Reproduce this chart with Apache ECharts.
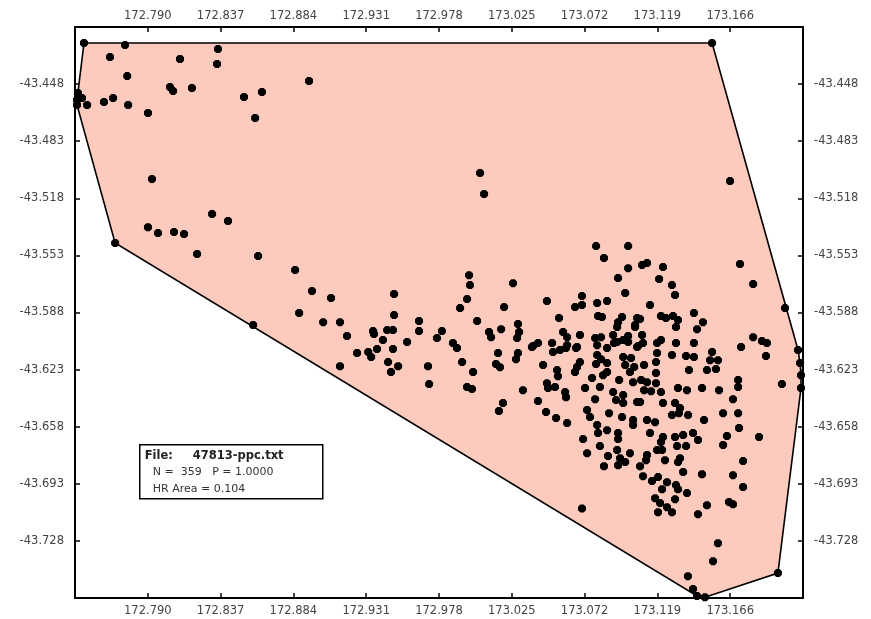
<!DOCTYPE html>
<html><head><meta charset="utf-8">
<script src="https://cdn.jsdelivr.net/npm/echarts@6/dist/echarts.min.js"></script>
<style>html,body{margin:0;padding:0;background:#fff}#c{width:871px;height:619px}</style>
</head><body><div id="c"></div>
<script>
// Axis ticks (longitude / latitude)
const xTicks = [172.790, 172.837, 172.884, 172.931, 172.978, 173.025, 173.072, 173.119, 173.166];
const yTicks = [-43.448, -43.483, -43.518, -43.553, -43.588, -43.623, -43.658, -43.693, -43.728];
const xRange = [172.743, 173.213];
const yRange = [-43.763, -43.413];

// Locations [longitude, latitude]
const westPts = [
[172.7488,-43.4228],[172.7753,-43.4241],[172.7656,-43.4314],[172.8353,-43.4265],[172.8347,-43.4357],[172.8108,-43.4326],[172.7767,-43.4431],[172.7449,-43.4534],[172.7443,-43.4578],[172.7475,-43.4565],[172.7508,-43.4608],[172.7443,-43.4608],[172.7617,-43.4590],[172.7676,-43.4565],[172.7773,-43.4608],[172.7901,-43.4657],[172.8043,-43.4498],[172.8063,-43.4522],[172.8185,-43.4504],[172.8521,-43.4559],[172.8637,-43.4528],[172.8593,-43.4688],[172.8941,-43.4461],
[172.7689,-43.5454],[172.7927,-43.5062],[172.7901,-43.5357],[172.7966,-43.5393],[172.8069,-43.5387],[172.8134,-43.5399],[172.8315,-43.5276],[172.8418,-43.5319],[172.8218,-43.5521],[172.8612,-43.5534],[172.8851,-43.5620],[172.8960,-43.5748],[172.9083,-43.5791],[172.9490,-43.5767]
];
const midPts = [
[172.8580,-43.5957],[172.8877,-43.5883],[172.9032,-43.5939],[172.9141,-43.5939],[172.9186,-43.6024],[172.9490,-43.5896],[172.9354,-43.5994],[172.9360,-43.6012],[172.9445,-43.5988],[172.9483,-43.5988],[172.9418,-43.6049],[172.9574,-43.6061],[172.9651,-43.5932],[172.9651,-43.5994],[172.9767,-43.6037],[172.9251,-43.6128],[172.9323,-43.6122],[172.9342,-43.6153],[172.9380,-43.6104],[172.9483,-43.6104],[172.9451,-43.6184],[172.9516,-43.6209],[172.9470,-43.6245],[172.9141,-43.6209],[172.9709,-43.6209],[172.9716,-43.6319],
[172.9799,-43.5994],[172.9870,-43.6067],[172.9896,-43.6098],[172.9929,-43.6184],[172.9961,-43.6337]
];
const eastPts = [
[173.1543,-43.4228],
[173.0045,-43.5025],[173.0071,-43.5154],[173.1659,-43.5074],[173.0794,-43.5473],[173.1001,-43.5473],[173.0845,-43.5546],[173.1001,-43.5608],[173.1091,-43.5589],[173.1123,-43.5577],[173.1226,-43.5601],[173.0936,-43.5669],[173.1201,-43.5675],[173.1284,-43.5712],[173.1304,-43.5773],[173.0982,-43.5761],[173.1142,-43.5834],[173.1723,-43.5583],[173.1808,-43.5706],[173.2014,-43.5853],[172.9974,-43.5651],[172.9980,-43.5712],[172.9961,-43.5798],[172.9916,-43.5853],[173.0258,-43.5700],[173.0200,-43.5847],[173.0477,-43.5810],[173.0703,-43.5779],[173.0703,-43.5834],[173.0658,-43.5847],[173.0801,-43.5822],[173.0865,-43.5810],
[173.0555,-43.5914],[173.0807,-43.5902],[173.0832,-43.5908],[173.0962,-43.5908],[173.0936,-43.5939],[173.0930,-43.5969],[173.1046,-43.5957],[173.1078,-43.5920],[173.0026,-43.5932],[173.0181,-43.5982],[173.0290,-43.5951],[173.0297,-43.6000],[173.0103,-43.6000],[173.0116,-43.6031],[173.0284,-43.6037],[173.0581,-43.6000],[173.0607,-43.6031],[173.0690,-43.6018],[173.0788,-43.6037],[173.0826,-43.6031],[173.0904,-43.6018],[173.0910,-43.6067],[173.0969,-43.6049],[173.1001,-43.6024],[173.0419,-43.6067],[173.0380,-43.6092],[173.0510,-43.6067],[173.0607,-43.6080],[173.0671,-43.6092],
[173.1213,-43.5902],[173.1245,-43.5914],[173.1291,-43.5902],[173.1323,-43.5926],[173.1310,-43.5969],[173.1059,-43.5914],[173.1046,-43.5969],[173.1426,-43.5883],[173.1484,-43.5939],[173.1446,-43.5982],[173.1091,-43.6018],[173.1213,-43.6049],[173.1310,-43.6067],[173.1426,-43.6067],[173.1097,-43.6067],[173.1065,-43.6086],[173.1808,-43.6031],[173.1865,-43.6055],[173.1897,-43.6067],[173.1730,-43.6092]
];
const corePts = [
[173.0161,-43.6128],[173.0148,-43.6196],[173.0174,-43.6215],[173.0290,-43.6128],[173.0277,-43.6166],[173.0387,-43.6086],[173.0516,-43.6122],[173.0561,-43.6110],[173.0600,-43.6098],[173.0665,-43.6098],[173.0801,-43.6080],[173.0865,-43.6098],[173.0930,-43.6061],[173.1001,-43.6061],[173.1059,-43.6092],[173.0801,-43.6141],[173.0826,-43.6166],[173.0794,-43.6196],[173.0865,-43.6190],[173.0969,-43.6153],[173.1020,-43.6159],[173.0982,-43.6202],[173.1013,-43.6245],[173.0452,-43.6202],[173.0542,-43.6233],[173.0548,-43.6270],[173.0671,-43.6214],[173.0690,-43.6184],[173.0658,-43.6245],[173.0000,-43.6245],[172.9993,-43.6349],[173.0322,-43.6356],[173.0477,-43.6313],[173.0484,-43.6343],[173.0529,-43.6337],[173.0600,-43.6399],[173.0419,-43.6423],[173.0193,-43.6435],[173.0167,-43.6484],[173.0471,-43.6490],[173.0536,-43.6527],[173.0607,-43.6558],[173.0710,-43.6656],[173.0736,-43.6742],[173.0723,-43.6343],[173.0768,-43.6282],[173.0788,-43.6411],[173.0819,-43.6337],[173.0839,-43.6264],[173.0865,-43.6245],[173.0943,-43.6294],[173.1033,-43.6307],[173.0904,-43.6368],[173.0923,-43.6417],[173.0969,-43.6386],[173.0969,-43.6435],[173.1059,-43.6429],[173.0736,-43.6478],[173.0755,-43.6521],[173.0878,-43.6497],[173.0962,-43.6521],[173.0801,-43.6570],[173.0807,-43.6619],[173.0865,-43.6601],[173.0936,-43.6619],[173.1033,-43.6570],[173.1033,-43.6539],[173.0936,-43.6656],[173.0930,-43.6723],[173.1013,-43.6742],
[173.1188,-43.6067],[173.1891,-43.6147],[173.1543,-43.6122],[173.1530,-43.6172],[173.1581,-43.6172],[173.1394,-43.6233],[173.1375,-43.6147],[173.1426,-43.6153],[173.1284,-43.6141],[173.1188,-43.6128],[173.1181,-43.6184],[173.1104,-43.6202],[173.1040,-43.6214],[173.1181,-43.6251],[173.1510,-43.6233],[173.1568,-43.6227],[173.1085,-43.6294],[173.1123,-43.6307],[173.1181,-43.6313],[173.1213,-43.6368],[173.1104,-43.6356],[173.1149,-43.6362],[173.1323,-43.6343],[173.1381,-43.6356],[173.1478,-43.6343],[173.1588,-43.6356],[173.1711,-43.6294],[173.1711,-43.6337],[173.1678,-43.6411],[173.1994,-43.6319],[173.1078,-43.6429],[173.1226,-43.6435],[173.1304,-43.6435],[173.1336,-43.6466],[173.1284,-43.6509],[173.1329,-43.6497],[173.1388,-43.6509],[173.1491,-43.6539],[173.1614,-43.6497],[173.1711,-43.6497],[173.1717,-43.6588],[173.1123,-43.6539],[173.1175,-43.6552],[173.1142,-43.6619],[173.1226,-43.6643],[173.1304,-43.6643],[173.1356,-43.6631],[173.1420,-43.6619],[173.1452,-43.6662],[173.1639,-43.6637],[173.1614,-43.6692],[173.1846,-43.6643],[173.1213,-43.6674],[173.1188,-43.6723],[173.1317,-43.6699],[173.1375,-43.6699],[173.1220,-43.6723],[173.1123,-43.6754],[173.1336,-43.6773],
[173.0594,-43.6368],[173.2111,-43.6190],[173.2117,-43.6264],[173.2117,-43.6343],[173.2098,-43.6110]
];
const southPts = [
[173.0703,-43.7081],[173.0936,-43.6816],[173.0949,-43.6773],[173.1117,-43.6785],[173.1239,-43.6785],[173.1323,-43.6797],[173.1356,-43.6858],[173.1097,-43.6883],[173.1155,-43.6913],[173.1194,-43.6889],[173.1252,-43.6920],[173.1310,-43.6938],[173.1323,-43.6963],[173.1381,-43.6987],[173.1220,-43.6963],[173.1175,-43.7018],[173.1207,-43.7048],[173.1252,-43.7073],[173.1304,-43.7024],[173.1194,-43.7104],[173.1284,-43.7104],[173.1478,-43.6871],[173.1510,-43.7061],[173.1452,-43.7116],[173.1678,-43.6877],[173.1743,-43.6791],[173.1743,-43.6950],[173.1652,-43.7042],[173.1678,-43.7055],[173.1581,-43.7294],[173.1549,-43.7404],[173.1387,-43.7496],[173.1420,-43.7575],[173.1446,-43.7618],[173.1497,-43.7625],[173.1968,-43.7477],
[173.0819,-43.6699],[173.0871,-43.6760],[173.0982,-43.6797],[173.1078,-43.6822],[173.0845,-43.6822]
];
const infoLines = ['File:', '47813-ppc.txt', 'N =  359   P = 1.0000', 'HR Area = 0.104'];

const allPts = westPts.concat(midPts, eastPts, corePts, southPts);

// convex hull (monotone chain) of the locations
function convexHull(pts) {
  const p = pts.slice().sort((a, b) => a[0] - b[0] || a[1] - b[1]);
  const cross = (o, a, b) => (a[0]-o[0])*(b[1]-o[1]) - (a[1]-o[1])*(b[0]-o[0]);
  const lower = [], upper = [];
  for (const q of p) { while (lower.length >= 2 && cross(lower[lower.length-2], lower[lower.length-1], q) <= 0) lower.pop(); lower.push(q); }
  for (let i = p.length - 1; i >= 0; i--) { const q = p[i]; while (upper.length >= 2 && cross(upper[upper.length-2], upper[upper.length-1], q) <= 0) upper.pop(); upper.push(q); }
  upper.pop(); lower.pop();
  return lower.concat(upper);
}
const hull = convexHull(allPts);

const chart = echarts.init(document.getElementById('c'), null, {renderer: 'canvas'});
const labelStyle = {color: '#444', fontFamily: 'DejaVu Sans', fontSize: 11.5};
function xAxisDef(pos) {
  return {
    type: 'value', position: pos, min: xRange[0], max: xRange[1], interval: 0.047,
    axisLine: {show: true, onZero: false, lineStyle: {color: '#000', width: 2}},
    axisTick: {show: true, inside: true, length: 5, lineStyle: {color: '#000', width: 1.5}, customValues: xTicks},
    axisLabel: Object.assign({margin: pos === 'top' ? 5 : 7, customValues: xTicks, formatter: v => v.toFixed(3)}, labelStyle),
    splitLine: {show: false}
  };
}
function yAxisDef(pos) {
  return {
    type: 'value', position: pos, min: yRange[0], max: yRange[1], interval: 0.035,
    axisLine: {show: true, onZero: false, lineStyle: {color: '#000', width: 2}},
    axisTick: {show: true, inside: true, length: 5, lineStyle: {color: '#000', width: 1.5}, customValues: yTicks},
    axisLabel: Object.assign({margin: 11, customValues: yTicks, formatter: v => v.toFixed(3)}, labelStyle),
    splitLine: {show: false}
  };
}
chart.setOption({
  animation: false,
  backgroundColor: '#fff',
  grid: {left: 75, right: 68, top: 27, bottom: 21, containLabel: false},
  xAxis: [xAxisDef('bottom'), xAxisDef('top')],
  yAxis: [yAxisDef('left'), yAxisDef('right')],
  series: [
    {
      type: 'custom', xAxisIndex: 0, yAxisIndex: 0, silent: true, z: 1,
      data: hull,
      renderItem: function (params, api) {
        if (params.dataIndex !== 0) return null;
        const pts = hull.map(h => api.coord(h));
        return {type: 'polygon', shape: {points: pts},
          style: {fill: '#FDCBBD', stroke: '#000', lineWidth: 1.6}};
      }
    },
    {
      type: 'scatter', xAxisIndex: 0, yAxisIndex: 0, silent: true, z: 3,
      symbol: 'path://M2,0 L5,0 L7,2 L7,5 L5,7 L2,7 L0,5 L0,2 Z',
      symbolSize: 8,
      itemStyle: {color: '#000', opacity: 1},
      data: allPts
    }
  ],
  graphic: [{
    type: 'group', left: 139, top: 444, z: 10,
    children: [
      {type: 'rect', shape: {x: 0, y: 0, width: 183, height: 54}, style: {fill: '#fff', stroke: '#000', lineWidth: 1.5}},
      {type: 'text', x: 5, y: 5, style: {text: infoLines[0], font: 'bold 11.5px "DejaVu Sans"', fill: '#222'}},
      {type: 'text', x: 53, y: 5, style: {text: infoLines[1], font: 'bold 11.5px "DejaVu Sans"', fill: '#222'}},
      {type: 'text', x: 13, y: 22, style: {text: infoLines[2], font: '11px "DejaVu Sans"', fill: '#333', whiteSpace: 'pre'}},
      {type: 'text', x: 13, y: 39, style: {text: infoLines[3], font: '11px "DejaVu Sans"', fill: '#333'}}
    ]
  }]
});
</script></body></html>
